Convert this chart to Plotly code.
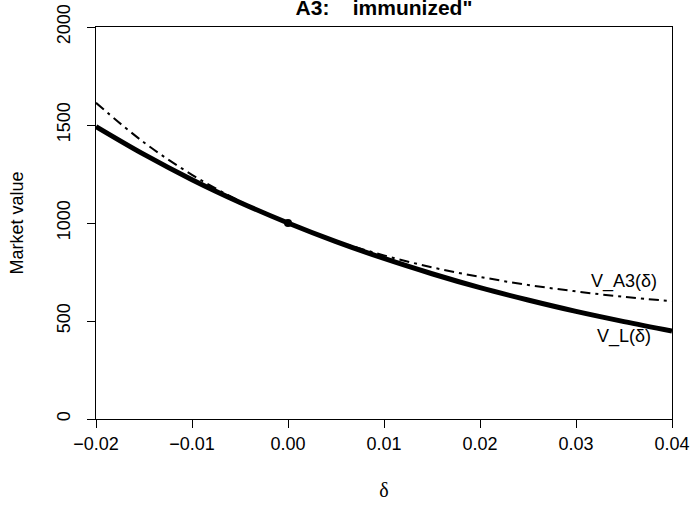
import plotly.graph_objects as go

# delta grid and market values
delta = [-0.02, -0.015, -0.01, -0.005, 0.0, 0.005, 0.01, 0.015, 0.02, 0.025, 0.03, 0.035, 0.04]
v_L = [1492, 1350, 1221, 1105, 1000, 905, 819, 741, 670, 607, 549, 497, 449]
v_A3 = [1613, 1411, 1246, 1111, 1000, 909, 835, 774, 725, 684, 651, 623, 601]

point_x = [0.0]
point_y = [1000]

x_ticks = [-0.02, -0.01, 0.0, 0.01, 0.02, 0.03, 0.04]
x_tick_text = ["\u22120.02", "\u22120.01", "0.00", "0.01", "0.02", "0.03", "0.04"]
y_ticks = [0, 500, 1000, 1500, 2000]

labels = ["V_A3(\u03b4)", "V_L(\u03b4)"]
label_x = [0.035, 0.035]
label_y = [700, 420]

FONT = "Liberation Sans, Arial, Helvetica, sans-serif"

fig = go.Figure()
fig.add_trace(go.Scatter(x=delta, y=v_A3, mode="lines", line=dict(color="black", width=2, dash="10px,5px,3px,5px", shape="spline"), hoverinfo="skip"))
fig.add_trace(go.Scatter(x=delta, y=v_L, mode="lines", line=dict(color="black", width=5, shape="spline"), hoverinfo="skip"))
fig.add_trace(go.Scatter(x=point_x, y=point_y, mode="markers", marker=dict(color="black", size=8), hoverinfo="skip"))

for t, x, y in zip(labels, label_x, label_y):
    fig.add_annotation(x=x, y=y, text=t, showarrow=False, font=dict(family=FONT, size=18, color="black"), xanchor="center", yanchor="middle")

fig.update_layout(
    width=694, height=507,
    margin=dict(l=96, r=22, t=27, b=88, autoexpand=False),
    paper_bgcolor="white", plot_bgcolor="white",
    showlegend=False,
    font=dict(family=FONT, size=18, color="black"),
    title=dict(text='<b>A3:    immunized"</b>', x=(96 + 576 / 2) / 694, xanchor="center", y=1.0, yanchor="top", yref="container",
               pad=dict(t=0), automargin=False, font=dict(family=FONT, size=21, color="black")),
    xaxis=dict(range=[-0.02, 0.04], tickvals=x_ticks, ticktext=x_tick_text, ticks="outside", ticklen=8, tickwidth=1,
               tickcolor="black", showline=True, linecolor="black", linewidth=1, mirror=True, showgrid=False, zeroline=False,
               automargin=False,
               title=dict(text="\u03b4", font=dict(family="Liberation Serif, DejaVu Serif, serif", size=20), standoff=30),
               tickfont=dict(size=18)),
    yaxis=dict(range=[0, 2000], tickvals=y_ticks, ticks="outside", ticklen=8, tickwidth=1, tickangle=-90,
               tickcolor="black", showline=True, linecolor="black", linewidth=1, mirror=True, showgrid=False, zeroline=False,
               automargin=False, ticklabelstandoff=10,
               title=dict(text="Market value", font=dict(size=18), standoff=25), tickfont=dict(size=18)),
)

fig.write_html("out.html")
